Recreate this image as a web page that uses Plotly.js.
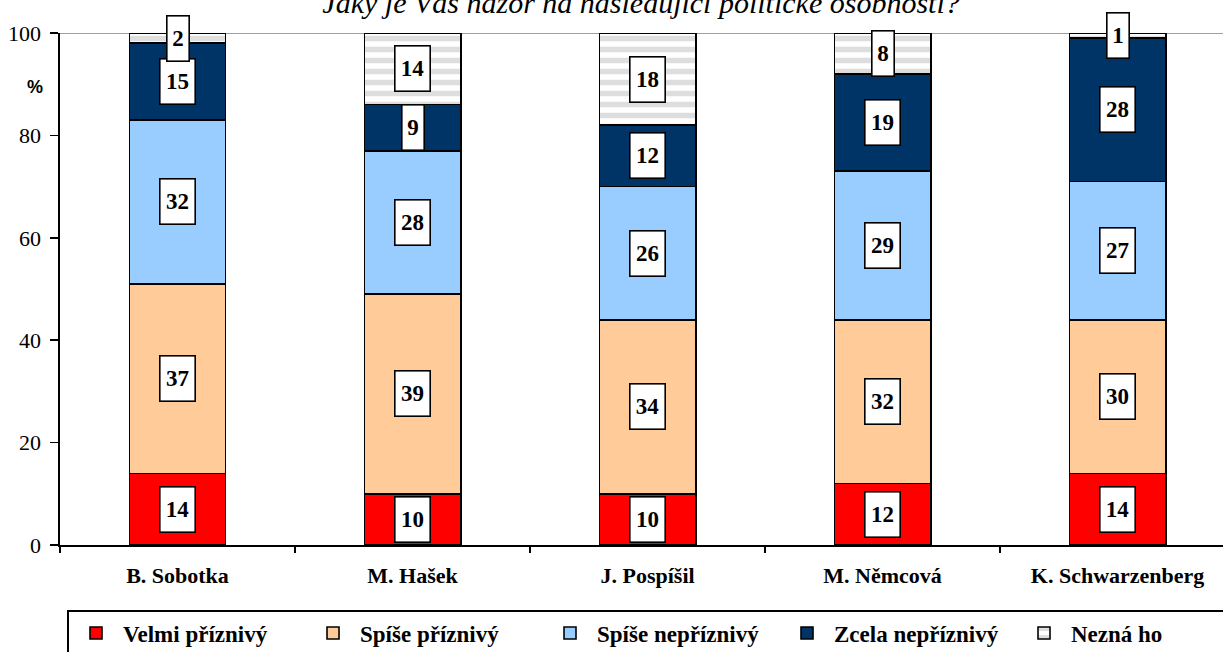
<!DOCTYPE html>
<html>
<head>
<meta charset="utf-8">
<script src="https://cdn.plot.ly/plotly-3.0.1.min.js"></script>
<style>
html,body{margin:0;padding:0;overflow:hidden;background:#fff;}
#chart{width:1300px;height:662px;}
</style>
</head>
<body>
<div id="chart"></div>
<script>
var categories = ["B. Sobotka", "M. Hašek", "J. Pospíšil", "M. Němcová", "K. Schwarzenberg"];
var seriesNames = ["Velmi příznivý", "Spíše příznivý", "Spíše nepříznivý", "Zcela nepříznivý", "Nezná ho"];
var velmiPriznivy = [14, 10, 10, 12, 14];
var spisePriznivy = [37, 39, 34, 32, 30];
var spiseNepriznivy = [32, 28, 26, 29, 27];
var zcelaNepriznivy = [15, 9, 12, 19, 28];
var neznaHo = [2, 14, 18, 8, 1];
var yTicks = [0, 20, 40, 60, 80, 100];
var titleText = "Jaký je Váš názor na následující politické osobnosti?";

var seriesValues = [velmiPriznivy, spisePriznivy, spiseNepriznivy, zcelaNepriznivy, neznaHo];
var colors = ["#FF0000", "#FFCC99", "#99CCFF", "#003366", "#FFFFFF"];
var serif = "Liberation Serif";

var traces = seriesValues.map(function (vals, i) {
  var marker = {color: colors[i], line: {color: "#000", width: 1.6}};
  if (i === 4) {
    marker.pattern = {shape: "-", fgcolor: "#BEBEBE", bgcolor: "#FFFFFF", size: 11, solidity: 0.5, fillmode: "overlay"};
  }
  return {
    type: "bar", name: seriesNames[i], x: categories, y: vals,
    marker: marker, hoverinfo: "skip"
  };
});

var annotations = [];
categories.forEach(function (c, ci) {
  var cum = 0;
  seriesValues.forEach(function (vals) {
    var v = vals[ci];
    annotations.push({
      x: c, y: cum + v / 2, xref: "x", yref: "y", text: "<b>" + v + "</b>", showarrow: false,
      font: {family: serif, size: 23, color: "#000"},
      bgcolor: "#FFFFFF", bordercolor: "#000", borderwidth: 1.6, borderpad: 1,
      width: String(v).length > 1 ? 32 : 19, height: 42
    });
    cum += v;
  });
});
annotations.push({
  xref: "paper", yref: "y", x: -0.028, y: 89.5, text: "<b>%</b>", showarrow: false,
  font: {family: "Liberation Sans", size: 18, color: "#000"}
});

var layout = {
  width: 1300, height: 662,
  font: {family: serif, color: "#000"},
  margin: {l: 60, r: 5, t: 33, b: 117},
  paper_bgcolor: "#fff", plot_bgcolor: "#fff",
  barmode: "stack", bargap: 0.59,
  title: {
    text: "<i>" + titleText + "</i>", xref: "paper", x: 0.4705, xanchor: "center",
    yref: "container", y: 0.997, yanchor: "middle",
    font: {family: serif, size: 30, color: "#000"}
  },
  xaxis: {
    type: "category", range: [-0.5, 4.755], tickson: "boundaries",
    tickvals: categories, ticktext: categories.map(function (c) { return "<b>" + c + "</b>"; }),
    showline: true, linecolor: "#000", linewidth: 1.6,
    ticks: "outside", ticklen: 6, tickcolor: "#000", tickwidth: 1.6,
    ticklabelstandoff: 10,
    tickfont: {family: serif, size: 22, color: "#000"},
    showgrid: false, zeroline: false, fixedrange: true
  },
  yaxis: {
    range: [0, 100], tickvals: yTicks, ticktext: yTicks.map(String),
    showline: true, linecolor: "#000", linewidth: 1.6,
    ticks: "outside", ticklen: 8, tickcolor: "#000", tickwidth: 1.6,
    ticklabelstandoff: 5,
    tickfont: {family: serif, size: 22, color: "#000"},
    showgrid: false, zeroline: false, fixedrange: true
  },
  shapes: [{
    type: "line", xref: "paper", x0: 0, x1: 1, yref: "y", y0: 100, y1: 100,
    line: {color: "#A0A0A0", width: 2}, layer: "below"
  }],
  legend: {
    orientation: "h", x: 0.006, xanchor: "left", y: -0.127, yanchor: "top",
    bordercolor: "#000", borderwidth: 1.6, bgcolor: "#fff",
    itemwidth: 44,
    entrywidth: 178, entrywidthmode: "pixels", traceorder: "normal",
    font: {family: serif, size: 23, color: "#000", weight: "bold"}
  },
  annotations: annotations,
  showlegend: true
};

Plotly.newPlot("chart", traces, layout, {displayModeBar: false, staticPlot: true});
</script>
</body>
</html>
